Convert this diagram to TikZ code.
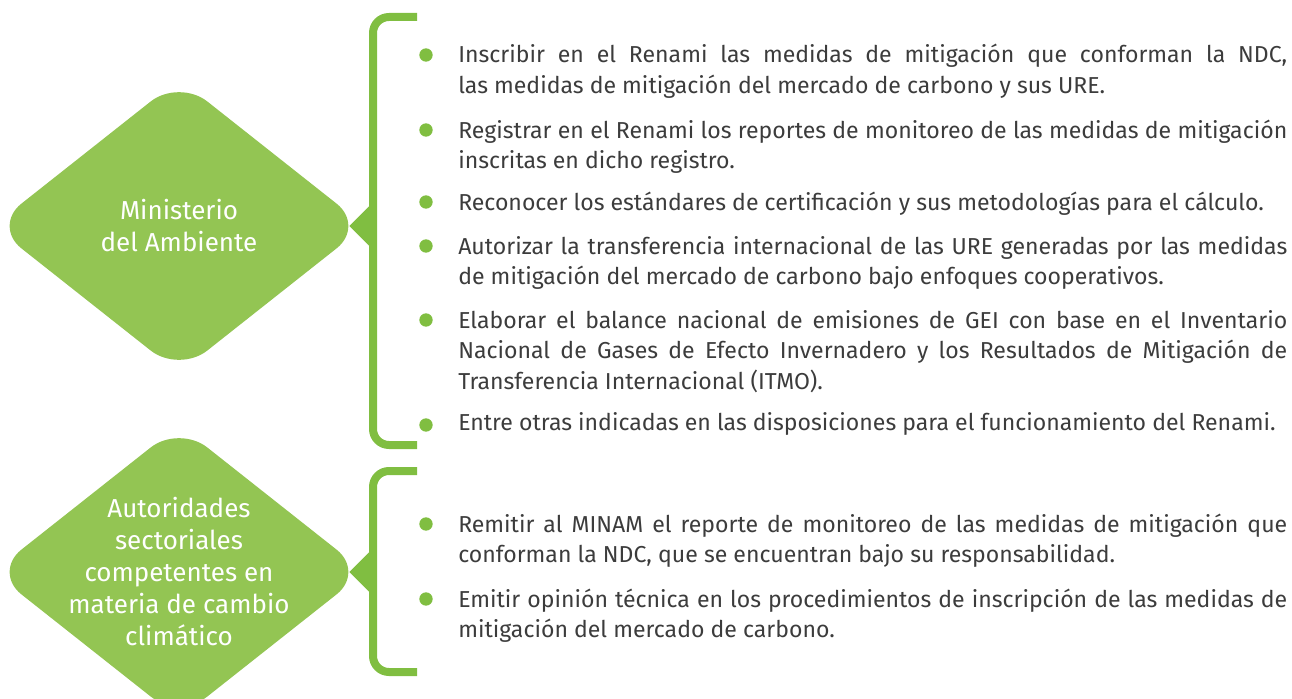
\documentclass[tikz,border=0pt]{standalone}
\usepackage{fontspec}
\setmainfont{Fira Sans}
\usetikzlibrary{shapes.geometric, positioning}
\definecolor{leafgreen}{RGB}{147, 197, 83}
\definecolor{bracegreen}{RGB}{128, 190, 65}
\definecolor{bodygray}{RGB}{60, 60, 60}
\hyphenpenalty=10000
\tolerance=10000

\begin{document}
\begin{tikzpicture}[x=0.75pt, y=-0.75pt,
    rombo/.style={diamond, aspect=1.265, fill=leafgreen, text=white, align=center, inner sep=-10pt,
        minimum width=279pt, minimum height=220.5pt, rounded corners=27pt,
        font=\fontsize{19.5}{24}\selectfont},
    bulletdot/.style={circle, fill=bracegreen, minimum size=10pt, inner sep=0pt},
    itemtext/.style={anchor=base west, text width=621.75pt, align=justify, inner sep=0pt,
        text=bodygray, font=\fontsize{17.3}{23}\selectfont},
    bracketline/.style={draw=bracegreen, line width=6pt, rounded corners=12pt}]
    \useasboundingbox (0,0) rectangle (1292,699);

    % actores
    \node[rombo] (minam) at (179,226) {Ministerio\\del Ambiente};
    \node[rombo] (sector) at (179,572) {Autoridades\\sectoriales\\competentes en\\materia de cambio\\climático};

    % llaves y flechas
    \draw[bracketline] (417,17) -- (373,17) -- (373,445) -- (417,445);
    \draw[bracketline] (417,471) -- (373,471) -- (373,672) -- (417,672);
    \fill[bracegreen] ([xshift=-12pt]minam.east) -- ++(20,-20) -- ++(0,40) -- cycle;
    \fill[bracegreen] ([xshift=-12pt]sector.east) -- ++(20,-20) -- ++(0,40) -- cycle;

    % funciones del MINAM
    \node[bulletdot] (b1) at (426,55) {};
    \node[bulletdot] (b2) at (426,130) {};
    \node[bulletdot] (b3) at (426,202) {};
    \node[bulletdot] (b4) at (426,246) {};
    \node[bulletdot] (b5) at (426,320) {};
    \node[bulletdot] (b6) at (426,425) {};
    \node[itemtext] (t1) at (458,63) {Inscribir en el Renami las medidas de mitigación que conforman la NDC,\linebreak las medidas de mitigación del mercado de carbono y sus URE.};
    \node[itemtext] (t2) at (458,138) {Registrar en el Renami los reportes de monitoreo de las medidas de mitigación\linebreak inscritas en dicho registro.};
    \node[itemtext] (t3) at (458,210) {Reconocer los estándares de certificación y sus metodologías para el cálculo.};
    \node[itemtext] (t4) at (458,254) {Autorizar la transferencia internacional de las URE generadas por las medidas\linebreak de mitigación del mercado de carbono bajo enfoques cooperativos.};
    \node[itemtext] (t5) at (458,328) {Elaborar el balance nacional de emisiones de GEI con base en el Inventario\linebreak Nacional de Gases de Efecto Invernadero y los Resultados de Mitigación de\linebreak Transferencia Internacional (ITMO).};
    \node[itemtext] (t6) at (458,430) {Entre otras indicadas en las disposiciones para el funcionamiento del Renami.};

    % funciones sectoriales
    \node[bulletdot] (b7) at (426,524) {};
    \node[bulletdot] (b8) at (426,599) {};
    \node[itemtext] (t7) at (458,532) {Remitir al MINAM el reporte de monitoreo de las medidas de mitigación que\linebreak conforman la NDC, que se encuentran bajo su responsabilidad.};
    \node[itemtext] (t8) at (458,607) {Emitir opinión técnica en los procedimientos de inscripción de las medidas de\linebreak mitigación del mercado de carbono.};
\end{tikzpicture}
\end{document}
